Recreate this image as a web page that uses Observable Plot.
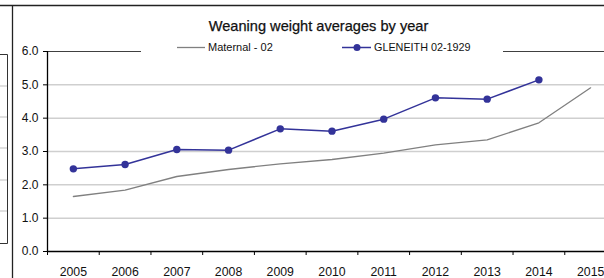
<!DOCTYPE html>
<html><head><meta charset="utf-8">
<script src="https://cdn.jsdelivr.net/npm/d3@7"></script>
<script src="https://cdn.jsdelivr.net/npm/@observablehq/plot@0.6"></script>
<style>
body{margin:0;background:#fff;}
#chart{position:relative;width:604px;height:278px;overflow:hidden;}
</style></head><body><div id="chart"></div>
<script>
const years = [2005, 2006, 2007, 2008, 2009, 2010, 2011, 2012, 2013, 2014, 2015];
const maternal = [1.65, 1.84, 2.25, 2.46, 2.63, 2.76, 2.95, 3.20, 3.35, 3.86, 4.91];
const gleneithYears = [2005, 2006, 2007, 2008, 2009, 2010, 2011, 2012, 2013, 2014];
const gleneith = [2.48, 2.61, 3.06, 3.04, 3.68, 3.61, 3.97, 4.61, 4.57, 5.15];
const yTicks = [0, 1, 2, 3, 4, 5, 6];
const gridValues = [1, 2, 3, 4, 5];
const titleText = "Weaning weight averages by year";
const seriesNames = ["Maternal - 02", "GLENEITH 02-1929"];
const colors = ["#808080", "#333399"];

const xBoundaries = years.map(y => y - 0.5).concat([years[years.length - 1] + 0.5]);
const matData = years.map((y, i) => ({year: y, value: maternal[i]}));
const glData = gleneithYears.map((y, i) => ({year: y, value: gleneith[i]}));

const font = "'Liberation Sans', Arial, sans-serif";

const plot = Plot.plot({
  width: 604,
  height: 278,
  marginLeft: 47,
  marginRight: -12,
  marginTop: 51,
  marginBottom: 27,
  style: {fontFamily: font, background: "white", overflow: "hidden"},
  x: {type: "linear", domain: [xBoundaries[0], xBoundaries[xBoundaries.length - 1]]},
  y: {domain: [0, 6]},
  marks: [
    Plot.gridY(gridValues, {stroke: "#cfcfcf", strokeOpacity: 1, strokeWidth: 1.5}),
    Plot.ruleY([6], {stroke: "#404040", strokeWidth: 1.2}),
    Plot.line(matData, {x: "year", y: "value", stroke: colors[0], strokeWidth: 1.3}),
    Plot.line(glData, {x: "year", y: "value", stroke: colors[1], strokeWidth: 1.5}),
    Plot.dot(glData, {x: "year", y: "value", fill: colors[1], r: 3.7}),
    Plot.axisX(xBoundaries, {tickSize: 4, tickFormat: () => "", label: null, stroke: "#000"}),
    Plot.axisX(years, {tickSize: 0, tickPadding: 16, tickFormat: d => String(d), label: null, fontSize: 12.3, fill: "#111"}),
    Plot.axisY(yTicks, {tickSize: 4, tickPadding: 5, tickFormat: d3.format(".1f"), label: null, fontSize: 12, fill: "#111", stroke: "#000"}),
    Plot.ruleY([0], {stroke: "#000", strokeWidth: 1.3}),
    Plot.ruleX([xBoundaries[0]], {y1: 0, y2: 6, stroke: "#000", strokeWidth: 1.3})
  ]
});
document.getElementById("chart").appendChild(plot);

// decorations: frame and neighbour-chart fragment, title, legend
const svg = d3.select(plot);
const deco = svg.append("g").attr("text-anchor", "start");
deco.append("line").attr("x1", 0).attr("x2", 604).attr("y1", 5.5).attr("y2", 5.5).attr("stroke", "#222").attr("stroke-width", 1.5);
deco.append("line").attr("x1", 12.5).attr("x2", 12.5).attr("y1", 5).attr("y2", 278).attr("stroke", "#222").attr("stroke-width", 1.3);
[86, 117, 148, 180, 211].forEach(y => deco.append("line").attr("x1", 0).attr("x2", 7).attr("y1", y).attr("y2", y).attr("stroke", "#cfcfcf").attr("stroke-width", 1.3));
deco.append("path").attr("d", "M0,54.5H7.5V243.5H0").attr("fill", "none").attr("stroke", "#333").attr("stroke-width", 1);

deco.append("text").attr("x", 318.5).attr("y", 30.5).attr("text-anchor", "middle")
  .attr("font-family", font).attr("font-size", 14.6).attr("fill", "#111").attr("stroke", "#111").attr("stroke-width", 0.25).text(titleText);

const leg = deco.append("g");
leg.append("rect").attr("x", 141).attr("y", 38).attr("width", 362).attr("height", 18).attr("fill", "white");
leg.append("line").attr("x1", 177).attr("x2", 205).attr("y1", 47.5).attr("y2", 47.5).attr("stroke", colors[0]).attr("stroke-width", 1.3);
leg.append("text").attr("x", 208).attr("y", 47.5).attr("dy", "0.36em").attr("font-family", font).attr("font-size", 11).attr("fill", "#111").text(seriesNames[0]);
leg.append("line").attr("x1", 342).attr("x2", 371).attr("y1", 47.5).attr("y2", 47.5).attr("stroke", colors[1]).attr("stroke-width", 1.5);
leg.append("circle").attr("cx", 357).attr("cy", 47.5).attr("r", 3.5).attr("fill", colors[1]);
leg.append("text").attr("x", 374).attr("y", 47.5).attr("dy", "0.36em").attr("font-family", font).attr("font-size", 10.8).attr("fill", "#111").text(seriesNames[1]);
</script></body></html>
